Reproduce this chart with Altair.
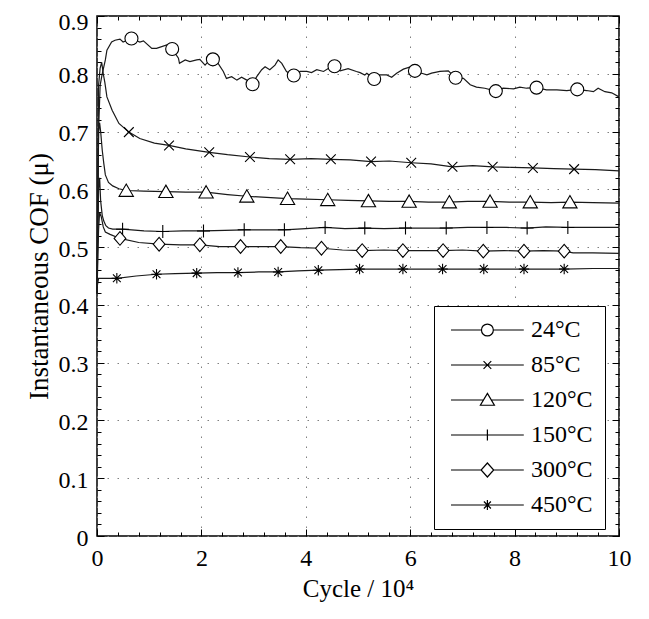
import altair as alt
import pandas as pd

FONT = "Liberation Serif, DejaVu Serif"

series = ["24°C", "85°C", "120°C", "150°C", "300°C", "450°C"]

# ---- curve data (Cycle / 10^4, COF) ----
x24 = [0.0, 0.03, 0.06, 0.1, 0.16, 0.19, 0.28, 0.345, 0.44, 0.50, 0.66, 0.82, 0.89, 1.05, 1.14, 1.24, 1.335,
       1.44, 1.56, 1.58, 1.69, 1.78, 1.91, 1.97, 2.07, 2.13, 2.22, 2.32, 2.42, 2.48, 2.58, 2.68, 2.77, 2.87,
       2.98, 3.06, 3.155, 3.22, 3.31, 3.41, 3.47, 3.54, 3.63, 3.77, 3.89, 4.02, 4.11, 4.21, 4.34, 4.43, 4.55,
       4.66, 4.81, 4.97, 5.04, 5.13, 5.17, 5.31, 5.42, 5.55, 5.645, 5.74, 5.87, 6.0, 6.09, 6.22, 6.32, 6.41,
       6.57, 6.73, 6.87, 7.02, 7.15, 7.27, 7.43, 7.64, 7.78, 7.98, 8.10, 8.23, 8.42, 8.61, 8.81, 9.0, 9.2,
       9.38, 9.51, 9.6, 9.73, 9.86, 10.0]
y24 = [0.42, 0.70, 0.78, 0.80, 0.824, 0.841, 0.855, 0.858, 0.860, 0.855, 0.861, 0.855, 0.857, 0.844, 0.844,
       0.847, 0.850, 0.843, 0.827, 0.818, 0.824, 0.821, 0.824, 0.825, 0.815, 0.821, 0.825, 0.818, 0.804, 0.792,
       0.795, 0.789, 0.794, 0.789, 0.782, 0.795, 0.807, 0.812, 0.807, 0.815, 0.824, 0.818, 0.804, 0.797, 0.804,
       0.804, 0.802, 0.807, 0.804, 0.809, 0.813, 0.805, 0.809, 0.804, 0.802, 0.798, 0.801, 0.791, 0.798, 0.798,
       0.794, 0.801, 0.808, 0.812, 0.805, 0.801, 0.798, 0.801, 0.804, 0.805, 0.793, 0.792, 0.781, 0.777, 0.775,
       0.770, 0.775, 0.774, 0.777, 0.775, 0.776, 0.772, 0.772, 0.771, 0.773, 0.771, 0.769, 0.775, 0.769, 0.767,
       0.760]

x85 = [0.0, 0.03, 0.06, 0.09, 0.12, 0.15, 0.19, 0.29, 0.42, 0.61, 0.82, 1.1, 1.38, 1.7, 2.15, 2.5, 2.93, 3.3,
       3.70, 4.1, 4.48, 4.85, 5.25, 5.6, 6.02, 6.4, 6.81, 7.2, 7.58, 7.95, 8.35, 8.75, 9.14, 9.55, 10.0]
y85 = [0.42, 0.78, 0.81, 0.82, 0.80, 0.785, 0.76, 0.737, 0.714, 0.699, 0.688, 0.680, 0.676, 0.670, 0.664,
       0.660, 0.656, 0.653, 0.652, 0.653, 0.652, 0.651, 0.648, 0.649, 0.646, 0.644, 0.639, 0.641, 0.639, 0.638,
       0.637, 0.636, 0.635, 0.634, 0.632]

x120 = [0.0, 0.03, 0.05, 0.07, 0.1, 0.13, 0.16, 0.22, 0.3, 0.42, 0.56, 0.9, 1.32, 1.7, 2.09, 2.5, 2.87, 3.25,
        3.65, 4.0, 4.42, 4.8, 5.2, 5.6, 5.98, 6.35, 6.75, 7.1, 7.53, 7.9, 8.30, 8.7, 9.06, 9.5, 10.0]
y120 = [0.42, 0.70, 0.715, 0.70, 0.668, 0.645, 0.625, 0.612, 0.606, 0.601, 0.598, 0.597, 0.596, 0.595, 0.595,
        0.591, 0.588, 0.586, 0.584, 0.583, 0.582, 0.581, 0.580, 0.579, 0.579, 0.578, 0.578, 0.579, 0.579, 0.578,
        0.578, 0.577, 0.578, 0.577, 0.576]

x150 = [0.0, 0.03, 0.05, 0.07, 0.1, 0.13, 0.17, 0.22, 0.3, 0.49, 0.9, 1.26, 1.65, 2.04, 2.45, 2.82, 3.2, 3.59,
        4.0, 4.37, 4.75, 5.13, 5.5, 5.91, 6.3, 6.69, 7.1, 7.47, 7.85, 8.24, 8.6, 9.02, 9.5, 10.0]
y150 = [0.42, 0.60, 0.62, 0.58, 0.555, 0.545, 0.537, 0.533, 0.531, 0.531, 0.528, 0.527, 0.528, 0.528, 0.529,
        0.530, 0.530, 0.530, 0.532, 0.534, 0.532, 0.533, 0.532, 0.533, 0.533, 0.533, 0.534, 0.534, 0.534, 0.533,
        0.535, 0.534, 0.534, 0.534]

x300 = [0.0, 0.03, 0.05, 0.08, 0.12, 0.16, 0.25, 0.44, 0.8, 1.19, 1.6, 1.97, 2.35, 2.75, 3.1, 3.52, 3.9, 4.30,
        4.7, 5.08, 5.5, 5.86, 6.25, 6.63, 7.0, 7.40, 7.8, 8.18, 8.55, 8.95, 9.12, 9.5, 10.0]
y300 = [0.42, 0.53, 0.56, 0.553, 0.535, 0.526, 0.522, 0.515, 0.508, 0.505, 0.504, 0.504, 0.501, 0.501, 0.501,
        0.501, 0.499, 0.498, 0.495, 0.494, 0.495, 0.494, 0.494, 0.494, 0.495, 0.493, 0.494, 0.493, 0.494, 0.493,
        0.490, 0.490, 0.489]

x450 = [0.0, 0.03, 0.38, 0.75, 1.14, 1.5, 1.91, 2.3, 2.70, 3.1, 3.47, 3.85, 4.24, 4.65, 5.03, 5.45, 5.86, 6.25,
        6.62, 7.0, 7.41, 7.8, 8.18, 8.55, 8.95, 9.5, 10.0]
y450 = [0.43, 0.446, 0.446, 0.450, 0.453, 0.454, 0.455, 0.456, 0.456, 0.457, 0.457, 0.459, 0.460, 0.461, 0.462,
        0.462, 0.462, 0.462, 0.462, 0.462, 0.462, 0.462, 0.462, 0.462, 0.462, 0.463, 0.463]

# ---- marker positions ----
mx24 = [0.66, 1.44, 2.22, 2.98, 3.77, 4.55, 5.31, 6.09, 6.87, 7.64, 8.42, 9.2]
my24 = [0.861, 0.843, 0.825, 0.782, 0.797, 0.813, 0.791, 0.805, 0.793, 0.770, 0.776, 0.773]
mx85 = [0.61, 1.38, 2.15, 2.93, 3.70, 4.48, 5.25, 6.02, 6.81, 7.58, 8.35, 9.14]
my85 = [0.699, 0.676, 0.664, 0.656, 0.652, 0.652, 0.648, 0.646, 0.639, 0.639, 0.637, 0.635]
mx120 = [0.56, 1.32, 2.09, 2.87, 3.65, 4.42, 5.2, 5.98, 6.75, 7.53, 8.30, 9.06]
my120 = [0.598, 0.596, 0.595, 0.588, 0.584, 0.582, 0.580, 0.579, 0.578, 0.579, 0.578, 0.578]
mx150 = [0.49, 1.26, 2.04, 2.82, 3.59, 4.37, 5.13, 5.91, 6.69, 7.47, 8.24, 9.02]
my150 = [0.531, 0.527, 0.528, 0.530, 0.530, 0.534, 0.533, 0.533, 0.533, 0.534, 0.533, 0.534]
mx300 = [0.44, 1.19, 1.97, 2.75, 3.52, 4.30, 5.08, 5.86, 6.63, 7.40, 8.18, 8.95]
my300 = [0.515, 0.505, 0.504, 0.501, 0.501, 0.498, 0.494, 0.494, 0.494, 0.493, 0.493, 0.493]
mx450 = [0.38, 1.14, 1.91, 2.70, 3.47, 4.24, 5.03, 5.86, 6.62, 7.41, 8.18, 8.95]
my450 = [0.446, 0.453, 0.455, 0.456, 0.457, 0.460, 0.462, 0.462, 0.462, 0.462, 0.462, 0.462]

x_major = [0, 2, 4, 6, 8, 10]
y_major = [0, 0.1, 0.2, 0.3, 0.4, 0.5, 0.6, 0.7, 0.8, 0.9]
x_minor = [round(0.4 * i, 1) for i in range(26)]
y_minor = [round(0.02 * i, 2) for i in range(46)]

# marker glyphs (unit square paths)
marker_paths = [
    "M1,0A1,1,0,1,1,-1,0A1,1,0,1,1,1,0Z",
    "M-0.75,-0.75L0.75,0.75M-0.75,0.75L0.75,-0.75",
    "M0,-1L1.1,0.9L-1.1,0.9Z",
    "M-1,0H1M0,-1V1",
    "M0,-1.05L0.9,0L0,1.05L-0.9,0Z",
    "M-0.8,0H0.8M0,-0.8V0.8M-0.6,-0.6L0.6,0.6M-0.6,0.6L0.6,-0.6",
]
# legend glyphs: line + marker
legend_paths = [
    "M-1,0H3.35M5.05,0H9.4M5.05,0A0.85,0.85,0,1,1,3.35,0A0.85,0.85,0,1,1,5.05,0Z",
    "M-1,0H9.4M3.65,-0.55L4.75,0.55M3.65,0.55L4.75,-0.55",
    "M-1,0H3.64M4.76,0H9.4M4.2,-0.95L5.2,0.75L3.2,0.75Z",
    "M-1,0H9.4M4.2,-0.8V0.8",
    "M-1,0H3.3M5.1,0H9.4M4.2,-1L5.1,0L4.2,1L3.3,0Z",
    "M-1,0H9.4M4.2,-0.7V0.7M3.7,-0.5L4.7,0.5M3.7,0.5L4.7,-0.5",
]

curves = [(x24, y24), (x85, y85), (x120, y120), (x150, y150), (x300, y300), (x450, y450)]
marks = [(mx24, my24), (mx85, my85), (mx120, my120), (mx150, my150), (mx300, my300), (mx450, my450)]

rows = []
for s, (xs_, ys_) in zip(series, curves):
    for i, (a, b) in enumerate(zip(xs_, ys_)):
        rows.append({"series": s, "x": a, "y": b, "idx": i})
lines_df = pd.DataFrame(rows)

mrows = []
for s, (xs_, ys_) in zip(series, marks):
    for a, b in zip(xs_, ys_):
        mrows.append({"series": s, "x": a, "y": b})
mark_df = pd.DataFrame(mrows)

legend_df = pd.DataFrame({"series": series, "x": [-5] * 6, "y": [0.5] * 6})
dummy_df = pd.DataFrame({"x": [0, 10], "y": [0, 0.9]})

W, H = 522, 520
xsc = alt.Scale(domain=[0, 10], nice=False, zero=False)
ysc = alt.Scale(domain=[0, 0.9], nice=False, zero=False)

x_test = "abs(datum.value/2 - round(datum.value/2)) < 0.001"
y_test = "abs(datum.value*10 - round(datum.value*10)) < 0.001"


def tick_axis(orient, offset, values, test):
    return alt.Axis(orient=orient, offset=offset, values=values, labels=False, domain=False, grid=False,
                    title="", ticks=True, tickColor="black", tickWidth=1,
                    tickSize={"condition": {"test": test, "value": 7}, "value": 4})


line_layer = alt.Chart(lines_df).mark_line(color="#1a1a1a", strokeWidth=1.2).encode(
    x=alt.X("x:Q", scale=xsc, axis=alt.Axis(
        orient="bottom", values=x_major, ticks=False, domain=False, grid=True, gridDash=[1.5, 8.5],
        gridColor="#808080", gridWidth=1, labelFont=FONT, labelFontSize=24, labelColor="black",
        labelPadding=10, labelFlush=False, labelOverlap=False, labelExpr="format(datum.value, 'd')",
        title="Cycle / 10⁴", titleFont=FONT, titleFontSize=25, titleFontWeight="normal",
        titleColor="black", titleBaseline="alphabetic", titleY=60)),
    y=alt.Y("y:Q", scale=ysc, axis=alt.Axis(
        orient="left", values=y_major, ticks=False, domain=False, grid=True, gridDash=[1.5, 8.5],
        gridColor="#808080", gridWidth=1, labelFont=FONT, labelFontSize=24, labelColor="black",
        labelPadding=9, labelFlush=False, labelOverlap=False,
        labelOffset={"condition": {"test": "datum.value > 0.85", "value": 6}, "value": 2},
        labelExpr="datum.value == 0 ? '0' : format(datum.value, '.1f')",
        title="Instantaneous COF (μ)", titleFont=FONT, titleFontSize=27, titleFontWeight="normal",
        titleColor="black", titleBaseline="alphabetic", titleX=-50)),
    detail="series:N",
    order="idx:Q",
)

marker_layer = alt.Chart(mark_df).mark_point(
    filled=True, fill="white", stroke="black", strokeWidth=1.1, size=169, opacity=1
).encode(
    x=alt.X("x:Q", scale=xsc, axis=None),
    y=alt.Y("y:Q", scale=ysc, axis=None),
    shape=alt.Shape("series:N", scale=alt.Scale(domain=series, range=marker_paths), legend=None),
)

legend_layer = alt.Chart(legend_df).mark_point(
    filled=False, stroke="black", strokeWidth=1.2, size=196, opacity=1, clip=True
).encode(
    x=alt.X("x:Q", scale=xsc, axis=None),
    y=alt.Y("y:Q", scale=ysc, axis=None),
    shape=alt.Shape("series:N", scale=alt.Scale(domain=series, range=legend_paths), legend=alt.Legend(
        orient="none", legendX=337, legendY=290, title=None, strokeColor="black", fillColor="white",
        padding=12, cornerRadius=0, labelFont=FONT, labelFontSize=24, labelColor="black", labelOffset=61,
        rowPadding=11, symbolSize=196, symbolStrokeColor="black",
        symbolStrokeWidth=1.2, symbolOpacity=1)),
)

ticks_a = alt.Chart(dummy_df).mark_point(opacity=0).encode(
    x=alt.X("x:Q", scale=xsc, axis=tick_axis("top", -H, x_minor, x_test)),
    y=alt.Y("y:Q", scale=ysc, axis=tick_axis("right", -W, y_minor, y_test)),
)
ticks_b = alt.Chart(dummy_df).mark_point(opacity=0).encode(
    x=alt.X("x:Q", scale=xsc, axis=tick_axis("bottom", -H, x_minor, x_test)),
    y=alt.Y("y:Q", scale=ysc, axis=tick_axis("left", -W, y_minor, y_test)),
)

chart = alt.layer(line_layer, marker_layer, legend_layer, ticks_a, ticks_b).resolve_axis(
    x="independent", y="independent"
).resolve_scale(shape="independent").properties(
    width=W, height=H, autosize="none",
    padding={"left": 89, "top": 8, "right": 22, "bottom": 75},
).configure_view(stroke="black", strokeWidth=1.5)

chart.save("out.html", embed_options={"renderer": "svg", "actions": False})
